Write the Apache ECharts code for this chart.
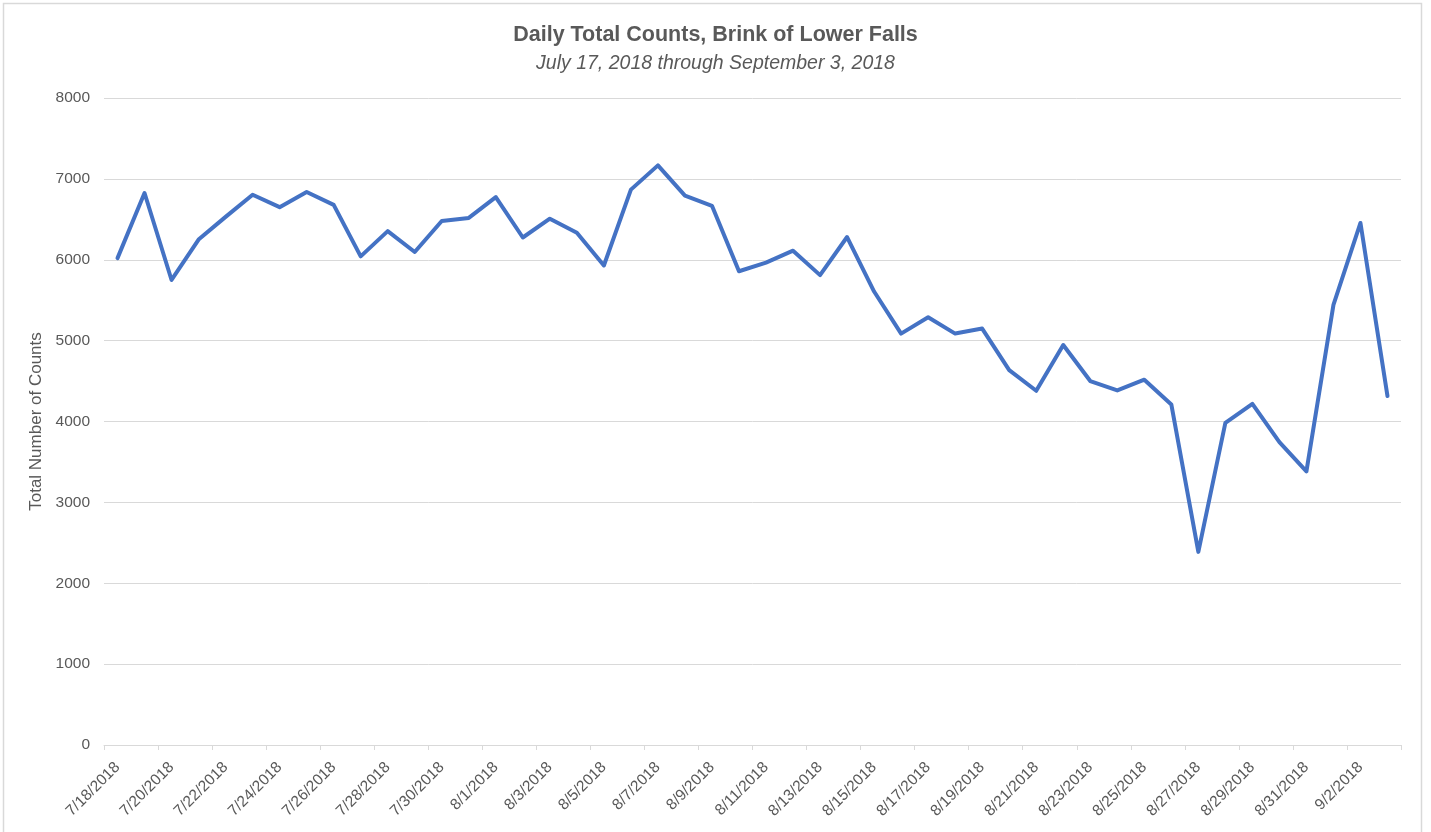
<!DOCTYPE html>
<html>
<head>
<meta charset="utf-8">
<script src="https://cdn.jsdelivr.net/npm/echarts@6/dist/echarts.min.js"></script>
<style>
html,body{margin:0;padding:0;background:#fff;}
#chart{width:1431px;height:832px;}
</style>
</head>
<body>
<div id="chart"></div>
<script>
const titleText = "Daily Total Counts, Brink of Lower Falls";
const subtitleText = "July 17, 2018 through September 3, 2018";
const yAxisName = "Total Number of Counts";

const dates = [
  "7/18/2018","7/19/2018","7/20/2018","7/21/2018","7/22/2018","7/23/2018","7/24/2018","7/25/2018",
  "7/26/2018","7/27/2018","7/28/2018","7/29/2018","7/30/2018","7/31/2018","8/1/2018","8/2/2018",
  "8/3/2018","8/4/2018","8/5/2018","8/6/2018","8/7/2018","8/8/2018","8/9/2018","8/10/2018",
  "8/11/2018","8/12/2018","8/13/2018","8/14/2018","8/15/2018","8/16/2018","8/17/2018","8/18/2018",
  "8/19/2018","8/20/2018","8/21/2018","8/22/2018","8/23/2018","8/24/2018","8/25/2018","8/26/2018",
  "8/27/2018","8/28/2018","8/29/2018","8/30/2018","8/31/2018","9/1/2018","9/2/2018","9/3/2018"
];

const counts = [
  6020, 6825, 5750, 6250, 6530, 6804, 6650, 6838,
  6679, 6042, 6354, 6096, 6479, 6517, 6775, 6275,
  6508, 6333, 5929, 6867, 7167, 6792, 6667, 5858,
  5965, 6112, 5810, 6281, 5607, 5087, 5289, 5087,
  5149, 4636, 4380, 4946, 4500, 4384, 4517, 4211,
  2388, 3983, 4219, 3744, 3384, 5442, 6455, 4314
];

const yMin = 0, yMax = 8000, yStep = 1000;

const FONT = "Liberation Sans";
const TXT = "#595959";
const GRID = "#d9d9d9";

const chart = echarts.init(document.getElementById('chart'), null, {renderer: 'canvas'});
chart.setOption({
  animation: false,
  backgroundColor: '#ffffff',
  graphic: [{
    type: 'rect',
    shape: {x: 3.5, y: 3.5, width: 1418, height: 860},
    style: {fill: 'none', stroke: '#d9d9d9', lineWidth: 1.5},
    silent: true
  }],
  title: [{
    text: titleText,
    left: 'center',
    top: 24,
    padding: 0,
    textStyle: {fontFamily: FONT, fontSize: 21.5, fontWeight: 'bold', color: TXT}
  }, {
    text: subtitleText,
    left: 'center',
    top: 54,
    padding: 0,
    textStyle: {fontFamily: FONT, fontSize: 19.5, fontStyle: 'italic', fontWeight: 'normal', color: TXT}
  }],
  grid: {left: 104, right: 30, top: 98, bottom: 87, containLabel: false},
  xAxis: {
    type: 'category',
    data: dates,
    boundaryGap: true,
    axisLine: {show: true, lineStyle: {color: GRID, width: 1}},
    axisTick: {show: true, interval: 1, length: 5, lineStyle: {color: GRID, width: 1}},
    axisLabel: {
      interval: 1,
      rotate: 45,
      margin: 20,
      fontFamily: FONT,
      fontSize: 15.5,
      color: TXT
    },
    splitLine: {show: false}
  },
  yAxis: {
    type: 'value',
    min: yMin,
    max: yMax,
    interval: yStep,
    name: yAxisName,
    nameLocation: 'middle',
    nameGap: 47,
    nameTextStyle: {fontFamily: FONT, fontSize: 17, color: TXT},
    axisLine: {show: false},
    axisTick: {show: false},
    axisLabel: {margin: 14, fontFamily: FONT, fontSize: 15.5, color: TXT, formatter: function (v) { return String(v); }},
    splitLine: {show: true, lineStyle: {color: GRID, width: 1}}
  },
  series: [{
    type: 'line',
    data: counts,
    showSymbol: false,
    smooth: false,
    lineStyle: {color: '#4472C4', width: 4, cap: 'round', join: 'round'},
    itemStyle: {color: '#4472C4'}
  }]
});
</script>
</body>
</html>
